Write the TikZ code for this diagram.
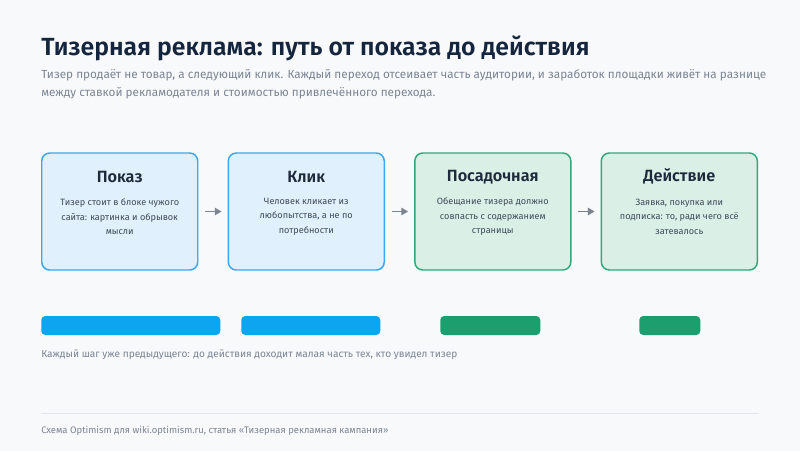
\documentclass[tikz,border=0pt]{standalone}
\usepackage{fontspec}
\setmainfont{Fira Sans}
\newfontfamily\semifont{Fira Sans SemiBold}
\usetikzlibrary{arrows.meta,positioning}
\definecolor{pagebg}{HTML}{F7F9FB}
\definecolor{headink}{HTML}{15253D}
\definecolor{leadink}{HTML}{7B8594}
\definecolor{titleink}{HTML}{1E293B}
\definecolor{bodyink}{HTML}{404A5A}
\definecolor{bluefill}{HTML}{E0F0FC}
\definecolor{blueedge}{HTML}{38A9F0}
\definecolor{greenfill}{HTML}{DAF0E6}
\definecolor{greenedge}{HTML}{2FA87A}
\definecolor{bluebar}{HTML}{0EA5F0}
\definecolor{greenbar}{HTML}{1C9E6F}
\definecolor{arrowgray}{HTML}{7C8491}
\definecolor{rulegray}{HTML}{E3E7EC}
\tikzset{
    stagebox/.style={draw, rounded corners=6pt, line width=1.1pt, minimum width=117pt, minimum height=87.75pt, inner sep=0pt},
    bluebox/.style={stagebox, draw=blueedge, fill=bluefill},
    greenbox/.style={stagebox, draw=greenedge, fill=greenfill},
    stagetitle/.style={font=\semifont\fontsize{12.2}{14}\selectfont, text=titleink},
    stagetext/.style={font=\fontsize{6.85}{11.1}\selectfont, text=bodyink, align=center},
    flow/.style={-{Triangle[length=5pt,width=5.5pt]}, line width=1.2pt, draw=arrowgray, shorten <=5pt, shorten >=4.5pt},
    bar/.style={rounded corners=3pt, minimum height=14.25pt, inner sep=0pt, anchor=west},
    note/.style={font=\fontsize{7.6}{10}\selectfont, text=leadink, anchor=base west, inner sep=0pt},
  }

\begin{document}
\begin{tikzpicture}[x=0.75pt,y=-0.75pt]
    \fill[pagebg] (0,0) rectangle (800,451);
    \useasboundingbox (0,0) rectangle (800,451);

    \node[anchor=base west, inner sep=0pt, font=\semifont\fontsize{18.6}{22}\selectfont, text=headink] (head) at (41,55) {Тизерная реклама: путь от показа до действия};
    \node[anchor=base west, inner sep=0pt, align=left, font=\fontsize{8.8}{13.5}\selectfont, text=leadink] (lead) at (41,96)
      {Тизер продаёт не товар, а следующий клик. Каждый переход отсеивает часть аудитории, и заработок площадки живёт на разнице\\
       между ставкой рекламодателя и стоимостью привлечённого перехода.};

    %% stages
    \node[bluebox, anchor=west] (pokaz) at (41,211.5) {};
    \node[bluebox, right=21.8pt of pokaz] (klik) {};
    \node[greenbox, right=21.8pt of klik] (landing) {};
    \node[greenbox, right=21.8pt of landing] (action) {};

    \node[stagetitle] (pokaz-t) at ([yshift=26pt]pokaz.center) {Показ};
    \node[stagetext] (pokaz-d) at ([yshift=-3.9pt]pokaz.center) {Тизер стоит в блоке чужого\\сайта: картинка и обрывок\\мысли};
    \node[stagetitle] (klik-t) at ([yshift=26pt]klik.center) {Клик};
    \node[stagetext] (klik-d) at ([yshift=-3.9pt]klik.center) {Человек кликает из\\любопытства, а не по\\потребности};
    \node[stagetitle] (landing-t) at ([yshift=26pt]landing.center) {Посадочная};
    \node[stagetext] (landing-d) at ([yshift=-3.9pt]landing.center) {Обещание тизера должно\\совпасть с содержанием\\страницы};
    \node[stagetitle] (action-t) at ([yshift=26pt]action.center) {Действие};
    \node[stagetext] (action-d) at ([yshift=-3.9pt]action.center) {Заявка, покупка или\\подписка: то, ради чего всё\\затевалось};

    \draw[flow] (pokaz) -- (klik);
    \draw[flow] (klik) -- (landing);
    \draw[flow] (landing) -- (action);

    %% funnel bars
    \node[bar, fill=bluebar, minimum width=134.25pt] (bar-pokaz) at (41,325.5) {};
    \node[bar, fill=bluebar, minimum width=104.25pt] (bar-klik) at (241,325.5) {};
    \node[bar, fill=greenbar, minimum width=75pt] (bar-landing) at (440,325.5) {};
    \node[bar, fill=greenbar, minimum width=45.75pt] (bar-action) at (639,325.5) {};

    \node[note] (caption) at (41,357) {Каждый шаг уже предыдущего: до действия доходит малая часть тех, кто увидел тизер};

    \draw[rulegray, line width=0.75pt] (41,413) -- (759,413);
    \node[note, font=\fontsize{7.1}{9}\selectfont] (source) at (41,433) {Схема Optimism для wiki.optimism.ru, статья «Тизерная рекламная кампания»};
  \end{tikzpicture}
\end{document}
